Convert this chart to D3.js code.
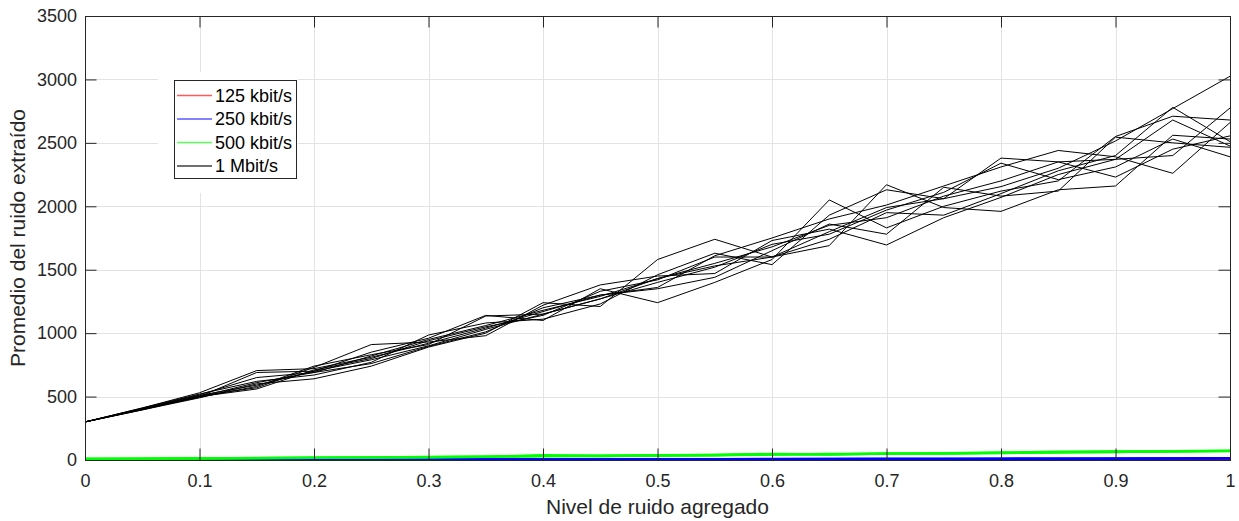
<!DOCTYPE html>
<html>
<head>
<meta charset="utf-8">
<script src="https://cdn.jsdelivr.net/npm/d3@7"></script>
<style>
  html, body { margin: 0; padding: 0; background: #fff; }
  svg { display: block; font-family: "Liberation Sans", Arial, Helvetica, sans-serif; }
</style>
</head>
<body>
<svg id="chart" width="1239" height="521"></svg>
<script>
// Noise level added (x values shared by every run)
const noiseLevels = [0, 0.05, 0.1, 0.15, 0.2, 0.25, 0.3, 0.35, 0.4, 0.45, 0.5,
                     0.55, 0.6, 0.65, 0.7, 0.75, 0.8, 0.85, 0.9, 0.95, 1];

// 125 kbit/s runs
const runs125 = [
  [0, 0.5, 1, 1, 1.5, 2, 2, 2.5, 3, 3, 3.5, 3.5, 4, 4, 4.5, 4.5, 5, 5, 5.5, 6, 6],
  [0, 0.5, 0.5, 1, 1, 1.5, 2, 2, 2.5, 3, 3, 3.5, 3.5, 4, 4, 4.5, 5, 5, 5.5, 5.5, 6.5],
  [0, 0.5, 1, 1.5, 1.5, 2, 2.5, 2.5, 3, 3.5, 3.5, 4, 4, 4.5, 5, 5, 5.5, 6, 6, 6.5, 7]
];

// 250 kbit/s runs
const runs250 = [
  [2, 2.5, 3, 3.5, 4, 4.5, 5, 5.5, 6, 6.5, 7, 7.5, 8, 8.5, 9, 9.5, 10, 11, 11.5, 12.5, 14],
  [1.5, 2, 2.5, 3, 3.5, 4, 4.5, 5, 5.5, 6, 6.5, 7, 7.5, 8, 8.5, 9, 9.5, 10, 11, 12, 13],
  [2, 3, 3, 4, 4.5, 5, 5.5, 6, 6.5, 7, 7.5, 8, 8.5, 9, 9.5, 10, 10.5, 11.5, 12, 13, 15]
];

// 500 kbit/s runs
const runs500 = [
  [8, 10, 14, 15, 18, 20, 22, 25, 33, 32, 36, 38, 45, 44, 50, 50, 55, 58, 65, 68, 72],
  [6, 9, 12, 15, 17, 21, 24, 27, 30, 34, 35, 40, 42, 47, 48, 53, 57, 62, 63, 70, 74],
  [10, 11, 13, 16, 19, 19, 23, 26, 37, 31, 37, 39, 48, 43, 51, 52, 58, 65, 67, 66, 70]
];

// 1 Mbit/s runs
const runs1M = [
  [300, 405, 510, 590, 700, 790, 900, 1030, 1150, 1270, 1430, 1530, 1600, 1800, 1990, 2060, 2155, 2300, 2515, 2770, 3025],
  [300, 410, 530, 705, 720, 810, 920, 1040, 1170, 1300, 1360, 1610, 1750, 1900, 2010, 2160, 2310, 2440, 2390, 2260, 2660],
  [300, 400, 500, 690, 700, 850, 960, 1140, 1100, 1350, 1240, 1400, 1580, 2050, 1830, 2000, 2120, 2200, 2550, 2710, 2680],
  [300, 395, 490, 600, 640, 740, 890, 1000, 1240, 1210, 1580, 1740, 1600, 1690, 2170, 1990, 1960, 2130, 2160, 2560, 2530],
  [300, 400, 505, 570, 730, 910, 930, 980, 1220, 1380, 1450, 1470, 1730, 1820, 1695, 1910, 2070, 2250, 2370, 2680, 2475],
  [300, 410, 520, 620, 670, 770, 985, 1080, 1110, 1230, 1460, 1630, 1540, 1930, 2130, 2060, 2380, 2350, 2230, 2450, 2555],
  [300, 400, 495, 580, 740, 830, 910, 1135, 1150, 1270, 1400, 1520, 1700, 1780, 1970, 2110, 2340, 2210, 2310, 2530, 2390],
  [300, 405, 515, 650, 690, 760, 895, 1010, 1200, 1300, 1350, 1440, 1650, 1860, 1780, 2150, 2080, 2120, 2545, 2500, 2465],
  [300, 400, 500, 560, 710, 800, 940, 1050, 1140, 1330, 1420, 1600, 1600, 1740, 1950, 1930, 2100, 2280, 2400, 2780, 2510],
  [300, 395, 500, 610, 690, 820, 950, 1060, 1180, 1290, 1430, 1550, 1680, 1850, 1910, 2080, 2200, 2350, 2370, 2400, 2775]
];

const seriesNames = ["125 kbit/s", "250 kbit/s", "500 kbit/s", "1 Mbit/s"];
const seriesColors = ["#ff0000", "#0000ff", "#00ff00", "#000000"];
const seriesRuns = [runs125, runs250, runs500, runs1M];

const xTicks = [0, 0.1, 0.2, 0.3, 0.4, 0.5, 0.6, 0.7, 0.8, 0.9, 1];
const yTicks = [0, 500, 1000, 1500, 2000, 2500, 3000, 3500];

const xLabel = "Nivel de ruido agregado";
const yLabel = "Promedio del ruido extraído";

// ---- layout ----
const plotLeft = 85, plotRight = 1230, plotTop = 16, plotBottom = 460;
const axisColor = "#262626";
const tickLen = 11.5;
const runWidths = [1.6, 2.2, 2.4, 1];

const svg = d3.select("#chart");
const x = d3.scaleLinear().domain([0, 1]).range([plotLeft, plotRight]);
const y = d3.scaleLinear().domain([0, 3500]).range([plotBottom, plotTop]);

// grid
const grid = svg.append("g").attr("stroke", "#e3e3e3").attr("stroke-width", 1);
grid.selectAll("line.gx").data(xTicks).join("line")
  .attr("x1", d => Math.round(x(d)) + 0.5).attr("x2", d => Math.round(x(d)) + 0.5)
  .attr("y1", plotTop).attr("y2", plotBottom);
grid.selectAll("line.gy").data(yTicks).join("line")
  .attr("y1", d => Math.round(y(d)) + 0.5).attr("y2", d => Math.round(y(d)) + 0.5)
  .attr("x1", plotLeft).attr("x2", plotRight);

// data lines
const line = d3.line().x((d, i) => x(noiseLevels[i])).y(d => y(d));
const plot = svg.append("g");
seriesRuns.forEach((runs, k) => {
  plot.append("g")
    .selectAll("path").data(runs).join("path")
    .attr("d", line)
    .attr("fill", "none")
    .attr("stroke", seriesColors[k])
    .attr("stroke-width", runWidths[k])
    .attr("stroke-linejoin", "miter");
});

// axes (ticks inward, box on)
function styleAxis(g) {
  g.select(".domain").remove();
  g.selectAll(".tick line").attr("stroke", axisColor);
  g.selectAll(".tick text").attr("fill", axisColor).attr("font-size", "18px");
}
svg.append("g").attr("transform", `translate(0,${plotBottom})`)
  .call(d3.axisBottom(x).tickValues(xTicks).tickFormat(d3.format("~g"))
    .tickSizeInner(-tickLen).tickSizeOuter(0).tickPadding(14))
  .call(styleAxis);
svg.append("g").attr("transform", `translate(0,${plotTop})`)
  .call(d3.axisTop(x).tickValues(xTicks).tickFormat("")
    .tickSizeInner(-tickLen).tickSizeOuter(0))
  .call(styleAxis);
svg.append("g").attr("transform", `translate(${plotLeft},0)`)
  .call(d3.axisLeft(y).tickValues(yTicks).tickFormat(d3.format("d"))
    .tickSizeInner(-tickLen).tickSizeOuter(0).tickPadding(8))
  .call(styleAxis);
svg.append("g").attr("transform", `translate(${plotRight},0)`)
  .call(d3.axisRight(y).tickValues(yTicks).tickFormat("")
    .tickSizeInner(-tickLen).tickSizeOuter(0))
  .call(styleAxis);

// frame
svg.append("rect")
  .attr("x", plotLeft + 0.5).attr("y", plotTop + 0.5)
  .attr("width", plotRight - plotLeft).attr("height", plotBottom - plotTop)
  .attr("fill", "none").attr("stroke", axisColor).attr("stroke-width", 1);

// axis labels
svg.append("text")
  .attr("x", (plotLeft + plotRight) / 2).attr("y", 514)
  .attr("text-anchor", "middle").attr("font-size", "21px").attr("fill", axisColor)
  .text(xLabel);
svg.append("text")
  .attr("transform", `translate(25,${(plotTop + plotBottom) / 2}) rotate(-90)`)
  .attr("text-anchor", "middle").attr("font-size", "21px").attr("fill", axisColor)
  .text(yLabel);

// legend
const legend = svg.append("g");
legend.append("rect").attr("x", 158).attr("y", 72).attr("width", 140).attr("height", 121)
  .attr("fill", "#fff");
legend.append("rect").attr("x", 174.5).attr("y", 80.5).attr("width", 122).attr("height", 98)
  .attr("fill", "#fff").attr("stroke", axisColor).attr("stroke-width", 1);
const rowY = [95.5, 119, 142.5, 166];
seriesNames.forEach((name, i) => {
  legend.append("line")
    .attr("x1", 177).attr("x2", 212).attr("y1", rowY[i]).attr("y2", rowY[i])
    .attr("stroke", seriesColors[i]).attr("stroke-opacity", i === 3 ? 0.75 : 0.65)
    .attr("stroke-width", 1.3);
  legend.append("text")
    .attr("x", 215).attr("y", rowY[i]).attr("dy", "0.35em")
    .attr("font-size", "18px").attr("fill", "#000")
    .text(name);
});
</script>
</body>
</html>
